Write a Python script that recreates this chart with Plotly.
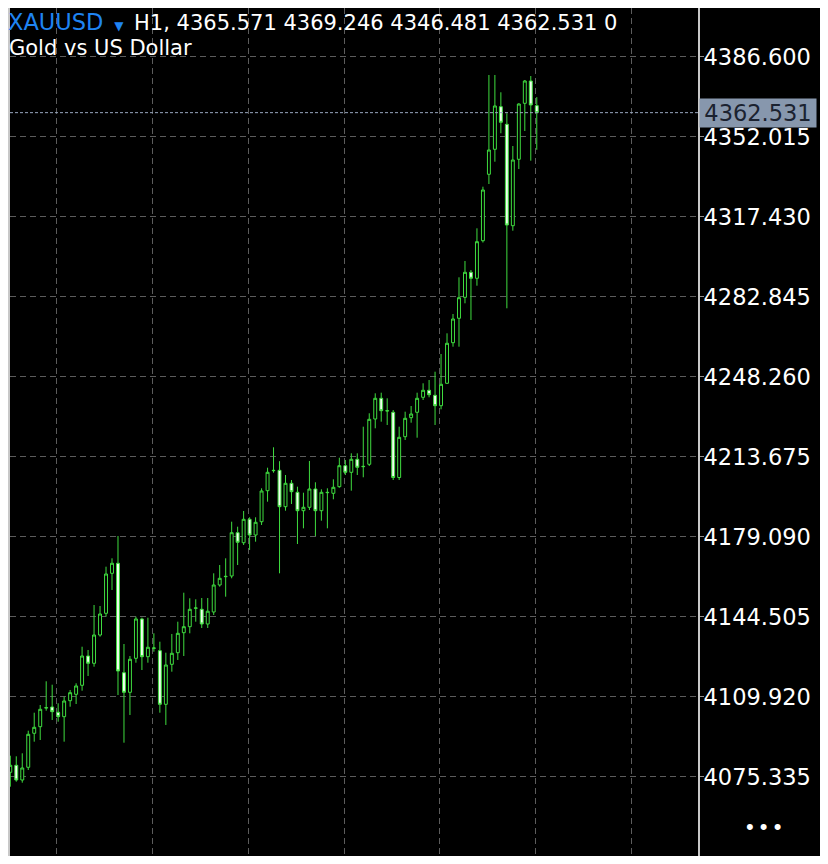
import plotly.graph_objects as go

symbol = "XAUUSD"
timeframe_info = "H1, 4365.571 4369.246 4346.481 4362.531 0"
description = "Gold vs US Dollar"
last_price = 4362.531

bars = list(range(90))
opens = [4077.06, 4077.37, 4080.39, 4074.04, 4079.53, 4094.23, 4097.08, 4105.16, 4105.60, 4103.31,
         4101.41, 4108.32, 4111.09, 4114.98, 4127.64, 4124.49, 4136.72, 4146.10, 4163.39, 4167.72,
         4120.42, 4111.95, 4126.65, 4143.64, 4127.34, 4130.97, 4129.94, 4106.76, 4124.05, 4129.07,
         4137.72, 4140.31, 4148.27, 4147.83, 4141.48, 4146.67, 4158.34, 4161.93, 4162.23, 4180.95,
         4176.62, 4186.74, 4179.95, 4185.70, 4199.11, 4207.75, 4207.92, 4192.19, 4202.30, 4198.41,
         4190.46, 4191.93, 4199.84, 4190.46, 4198.24, 4197.98, 4200.84, 4209.91, 4207.06, 4212.68,
         4209.48, 4210.52, 4230.10, 4239.05, 4233.56, 4233.00, 4204.81, 4222.45, 4230.67, 4233.00,
         4239.48, 4242.51, 4240.35, 4235.85, 4245.54, 4263.09, 4273.64, 4282.71, 4293.52, 4290.93,
         4307.18, 4335.89, 4346.70, 4365.11, 4357.50, 4313.67, 4342.37, 4366.58, 4376.22, 4365.571]
highs = [4079.66, 4084.54, 4084.28, 4085.58, 4095.35, 4103.13, 4106.46, 4116.71, 4115.24, 4107.20,
         4110.05, 4112.95, 4115.84, 4131.66, 4130.24, 4149.69, 4149.26, 4166.25, 4169.88, 4179.52,
         4132.83, 4127.64, 4144.63, 4144.20, 4144.20, 4137.45, 4133.83, 4129.07, 4137.16, 4142.47,
         4155.01, 4152.59, 4152.16, 4152.72, 4152.72, 4163.39, 4166.98, 4169.88, 4185.70, 4183.54,
         4190.33, 4187.61, 4187.61, 4200.14, 4209.05, 4217.87, 4211.86, 4205.89, 4203.73, 4200.84,
         4198.24, 4211.95, 4202.74, 4199.71, 4200.14, 4204.03, 4213.37, 4212.38, 4215.27, 4215.27,
         4226.77, 4232.57, 4241.21, 4241.47, 4239.05, 4233.99, 4226.77, 4233.26, 4235.72, 4241.47,
         4245.54, 4246.96, 4250.55, 4258.20, 4267.15, 4275.49, 4291.36, 4298.41, 4294.52, 4312.54,
         4330.53, 4378.82, 4378.82, 4371.34, 4362.26, 4348.12, 4366.58, 4376.66, 4378.38, 4369.246]
lows = [4070.58, 4071.14, 4073.30, 4072.87, 4078.36, 4090.60, 4091.33, 4104.00, 4099.98, 4099.24,
        4090.60, 4105.73, 4106.89, 4112.64, 4119.00, 4123.02, 4135.99, 4144.63, 4156.18, 4110.78,
        4090.16, 4102.14, 4124.75, 4121.59, 4124.75, 4129.50, 4103.13, 4097.82, 4120.86, 4125.92,
        4127.64, 4137.45, 4142.47, 4139.75, 4139.75, 4145.37, 4157.61, 4153.28, 4161.23, 4166.98,
        4175.63, 4173.47, 4177.06, 4184.28, 4194.35, 4206.89, 4163.39, 4190.46, 4193.36, 4176.06,
        4182.85, 4190.76, 4179.52, 4186.14, 4182.85, 4195.39, 4200.40, 4205.89, 4199.11, 4205.89,
        4204.90, 4209.78, 4226.08, 4228.94, 4227.51, 4203.73, 4203.73, 4221.02, 4228.50, 4222.02,
        4238.32, 4239.48, 4227.51, 4234.29, 4245.23, 4261.36, 4261.36, 4280.12, 4272.90, 4287.73,
        4306.40, 4331.69, 4341.34, 4353.62, 4277.96, 4311.51, 4338.18, 4354.61, 4341.77, 4346.481]
closes = [4077.50, 4080.39, 4074.04, 4079.23, 4093.79, 4096.82, 4104.60, 4105.29, 4103.57, 4101.41,
          4108.19, 4111.78, 4114.68, 4127.64, 4124.49, 4136.72, 4145.80, 4163.09, 4167.72, 4121.16,
          4111.95, 4126.22, 4143.64, 4127.34, 4131.41, 4131.10, 4106.76, 4123.75, 4128.81, 4137.45,
          4140.31, 4147.83, 4148.40, 4141.48, 4147.00, 4158.34, 4161.23, 4162.06, 4180.95, 4176.80,
          4186.74, 4179.95, 4185.44, 4198.98, 4207.06, 4207.88, 4192.19, 4202.30, 4198.67, 4190.46,
          4191.93, 4199.84, 4190.46, 4198.41, 4198.37, 4200.57, 4209.91, 4207.06, 4212.68, 4209.22,
          4209.61, 4229.97, 4239.05, 4233.69, 4233.69, 4204.81, 4222.19, 4230.40, 4232.26, 4239.05,
          4242.51, 4240.61, 4235.85, 4245.10, 4262.83, 4273.33, 4282.54, 4293.52, 4290.93, 4306.75,
          4329.10, 4346.39, 4365.42, 4358.37, 4313.97, 4342.07, 4366.28, 4376.22, 4365.85, 4362.531]

price_ticks = [4040.750, 4075.335, 4109.920, 4144.505, 4179.090, 4213.675,
               4248.260, 4282.845, 4317.430, 4352.015, 4386.600]

GREEN = "#3fdc3f"
GRID = "#5c5c5c"
AXIS = "#c8c8c8"
FONT = "DejaVu Sans"
NB = "\u00a0"

fig = go.Figure()
fig.add_trace(go.Candlestick(
    x=bars, open=opens, high=highs, low=lows, close=closes,
    increasing=dict(line=dict(color=GREEN, width=1), fillcolor="#000000"),
    decreasing=dict(line=dict(color=GREEN, width=1), fillcolor="#f2fff0"),
    whiskerwidth=0, hoverinfo="skip", showlegend=False,
))

fig.add_shape(type="line", xref="paper", x0=0, x1=1, yref="y", y0=last_price, y1=last_price,
              line=dict(color="#9aa8c0", width=1, dash="3px,2px"), layer="above")

fig.add_annotation(xref="paper", x=1, xanchor="left", xshift=1, yref="y", y=last_price,
                   yanchor="middle", text=f"{last_price:.3f}", showarrow=False,
                   bgcolor="#8797ad", borderpad=0, width=116, height=28, align="center",
                   font=dict(family=FONT, size=22.5, color="#1b2230"))

title_text = (f'<span style="color:#1f84f2;font-size:22.5px">{symbol}{NB}'
              f'<span style="font-size:12px">{NB}▼{NB}</span></span>{NB}{timeframe_info}')
fig.add_annotation(xref="paper", x=0, xanchor="left", xshift=-3, yref="paper", y=1, yshift=0,
                   yanchor="top", showarrow=False, align="left", text=title_text, borderpad=0,
                   font=dict(family=FONT, size=21, color="#ffffff"))
fig.add_annotation(xref="paper", x=0, xanchor="left", xshift=-3, yref="paper", y=1, yshift=-40,
                   yanchor="middle", showarrow=False, align="left", text=description,
                   font=dict(family=FONT, size=21, color="#ffffff"))
fig.add_annotation(xref="paper", x=1, xanchor="center", xshift=65.5, yref="paper", y=0, yshift=30,
                   yanchor="middle", showarrow=False, text="• • •",
                   font=dict(family="Liberation Sans", size=22, color="#ffffff"))

fig.update_layout(
    width=820, height=848,
    margin=dict(l=0, r=130, t=0, b=0),
    paper_bgcolor="#000000", plot_bgcolor="#000000",
    boxgap=0.3,
    xaxis=dict(range=[0.95, 115.95], rangeslider=dict(visible=False),
               tick0=8.78, dtick=16, showticklabels=False,
               showgrid=True, gridcolor=GRID, griddash="6px,4px", gridwidth=1,
               ticks="", showline=True, linecolor=AXIS, linewidth=2, zeroline=False,
               fixedrange=True),
    yaxis=dict(range=[4041.18, 4407.78], side="right", tickvals=price_ticks, tickformat=".3f",
               showgrid=True, gridcolor=GRID, griddash="6px,4px", gridwidth=1,
               ticks="outside", ticklen=4, tickcolor="#909090", ticklabelstandoff=-5,
               tickfont=dict(family=FONT, size=22.5, color="#ffffff"),
               showline=True, linecolor=AXIS, linewidth=2, mirror=True, zeroline=False,
               fixedrange=True),
    hovermode=False,
)

fig.write_html("out.html")
